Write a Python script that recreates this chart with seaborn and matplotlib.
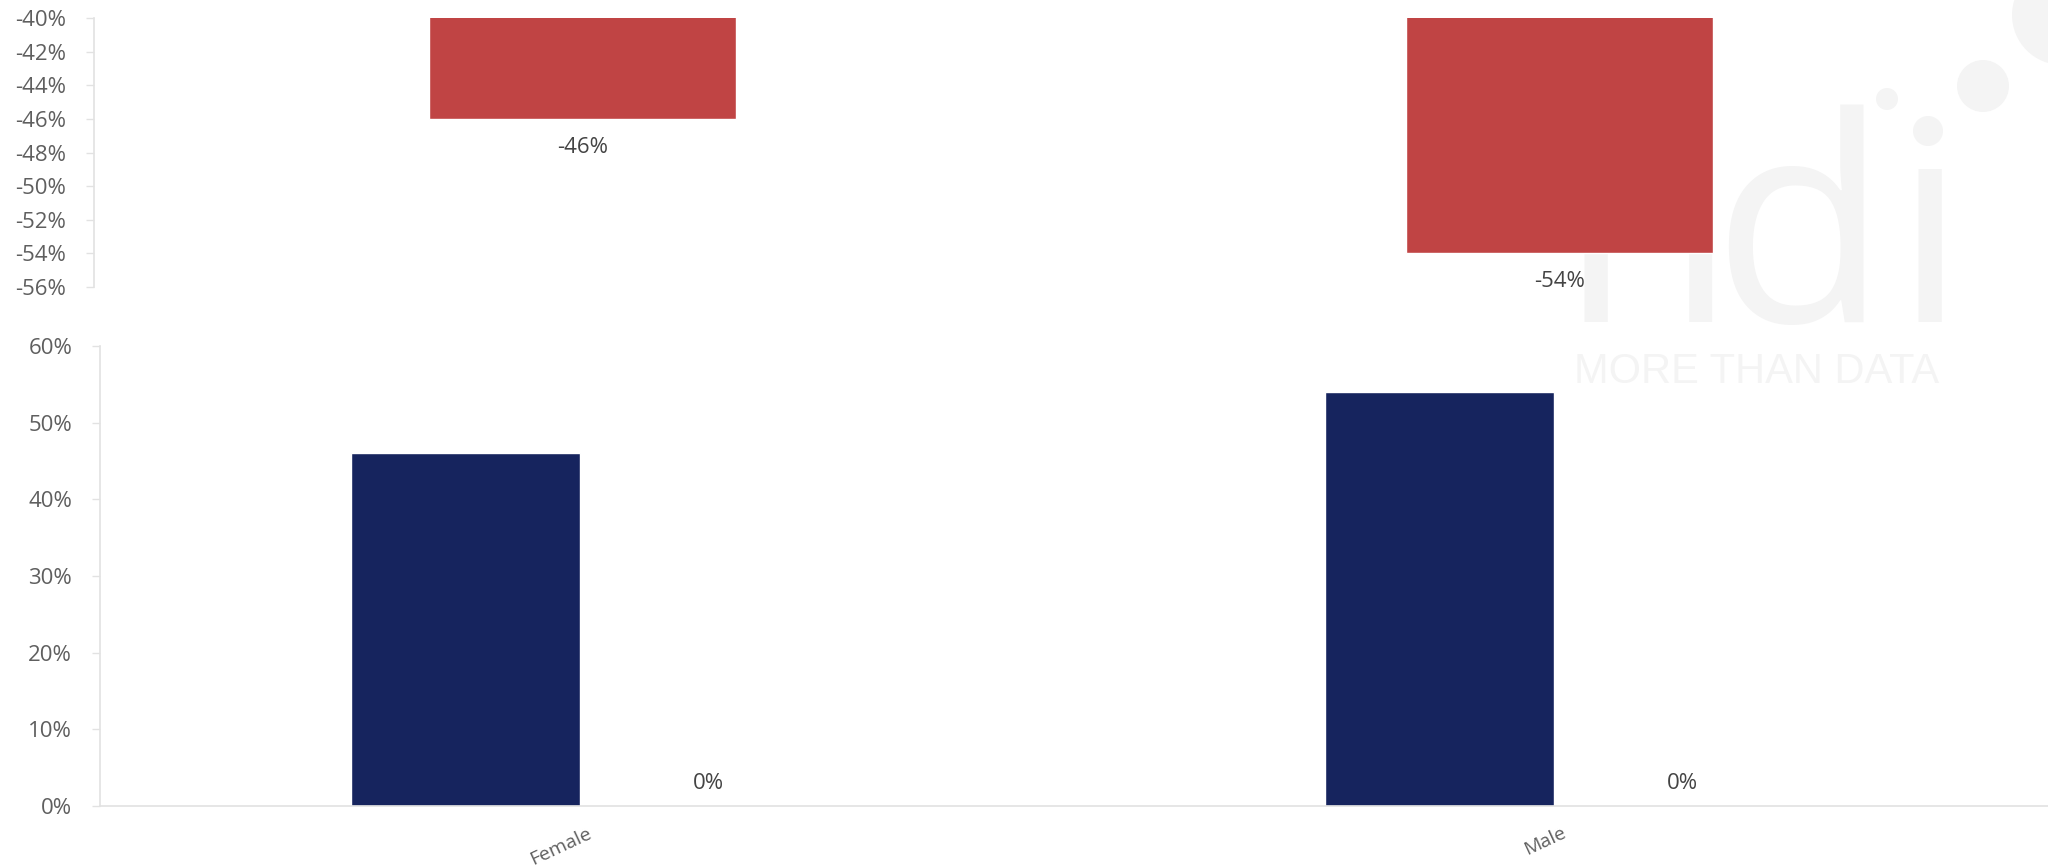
import matplotlib
matplotlib.use("Agg")
import matplotlib.pyplot as plt
from matplotlib.patches import Circle
import seaborn as sns
import pandas as pd

# ---- data ----
categories = ["Female", "Male"]
change_values = [-46, -54]          # top panel (red)
share_values = [46, 54]             # bottom panel (blue)
other_values = [0, 0]               # bottom panel second series (zero)
series_names = ["Share", "Other"]
top_ticks = [-40, -42, -44, -46, -48, -50, -52, -54, -56]
bottom_ticks = [0, 10, 20, 30, 40, 50, 60]

RED = "#C04444"
BLUE = "#16245E"
TICK_COLOR = "#5f5f5f"
SPINE_COLOR = "#e2e2e2"
WM = "#f4f4f4"

sns.set_theme(style="white")
plt.rcParams["font.family"] = ["Open Sans", "DejaVu Sans"]

W, H = 2048, 867
fig = plt.figure(figsize=(W / 100, H / 100), dpi=100)
fig.patch.set_facecolor("white")

# ---- watermark (background, pixel coordinates) ----
bg = fig.add_axes([0, 0, 1, 1], zorder=-1)
bg.set_xlim(0, W)
bg.set_ylim(H, 0)
bg.axis("off")
for ch, x in zip(["n", "d", "ı"], [1560, 1712, 1893]):
    bg.text(x, 322, ch, fontsize=206, color=WM, ha="left", va="baseline",
            family="Open Sans")
for (cx, cy, r) in [(1928, 131, 15), (1887, 99, 11), (1983, 86, 26), (2062, 15, 50)]:
    bg.add_patch(Circle((cx, cy), r, color=WM, lw=0))
bg.text(1574, 383, "MORE THAN DATA", fontsize=30, color=WM, ha="left",
        va="baseline", family="Liberation Sans")

# ---- top panel ----
ax1 = fig.add_axes([94 / W, 1 - 287 / H, 1 - 94 / W, (287 - 18) / H])
ax1.set_facecolor("none")
df_top = pd.DataFrame({"cat": categories, "val": change_values})
sns.barplot(data=df_top, x="cat", y="val", color=RED, width=0.315,
            saturation=1, ax=ax1)
ax1.set_xlim(-0.5, 1.5)
ax1.set_ylim(-56, -40)
ax1.set_yticks(top_ticks)
ax1.set_yticklabels([f"{t}%" for t in top_ticks])
ax1.set_xticks([])
ax1.set_xlabel("")
ax1.set_ylabel("")
for s in ["top", "right", "bottom"]:
    ax1.spines[s].set_visible(False)
ax1.spines["left"].set_color(SPINE_COLOR)
ax1.spines["left"].set_linewidth(1.2)
ax1.tick_params(axis="y", left=True, length=6, width=1, color=SPINE_COLOR,
                labelsize=16, labelcolor=TICK_COLOR, pad=14)
for bar, v in zip(ax1.patches, change_values):
    cx = bar.get_x() + bar.get_width() / 2
    ax1.annotate(f"{v}%", xy=(cx, v), xytext=(0, -20.5), textcoords="offset points",
                 ha="center", va="center", fontsize=16, color="#444444",
                 annotation_clip=False)

# ---- bottom panel ----
ax2 = fig.add_axes([100 / W, 1 - 806 / H, 1 - 100 / W, (806 - 346) / H])
ax2.set_facecolor("none")
df_bot = pd.DataFrame({
    "cat": categories * 2,
    "val": share_values + other_values,
    "series": [series_names[0]] * len(categories) + [series_names[1]] * len(categories),
})
sns.barplot(data=df_bot, x="cat", y="val", hue="series",
            palette={series_names[0]: BLUE, series_names[1]: RED},
            width=0.5, gap=0.06, saturation=1, legend=False, ax=ax2)
ax2.set_xlim(-0.5, 1.5)
ax2.set_ylim(0, 60)
ax2.set_yticks(bottom_ticks)
ax2.set_yticklabels([f"{t}%" for t in bottom_ticks])
ax2.set_xlabel("")
ax2.set_ylabel("")
for s in ["top", "right"]:
    ax2.spines[s].set_visible(False)
for s in ["left", "bottom"]:
    ax2.spines[s].set_color(SPINE_COLOR)
    ax2.spines[s].set_linewidth(1.2)
ax2.tick_params(axis="y", left=True, length=6, width=1, color=SPINE_COLOR,
                labelsize=16, labelcolor=TICK_COLOR, pad=14)
ax2.tick_params(axis="x", bottom=False, labelsize=14, labelcolor=TICK_COLOR, pad=7)
for lab in ax2.get_xticklabels():
    lab.set_rotation(25)
    lab.set_ha("right")
    lab.set_va("top")
    lab.set_rotation_mode("anchor")

other_container = ax2.containers[1]
for bar, v in zip(other_container, other_values):
    cx = bar.get_x() + bar.get_width() / 2
    ax2.annotate(f"{v}%", xy=(cx, v), xytext=(0, 16.5), textcoords="offset points",
                 ha="center", va="center", fontsize=16, color="#444444",
                 annotation_clip=False)

fig.savefig("out.png", dpi=100, facecolor="white")
